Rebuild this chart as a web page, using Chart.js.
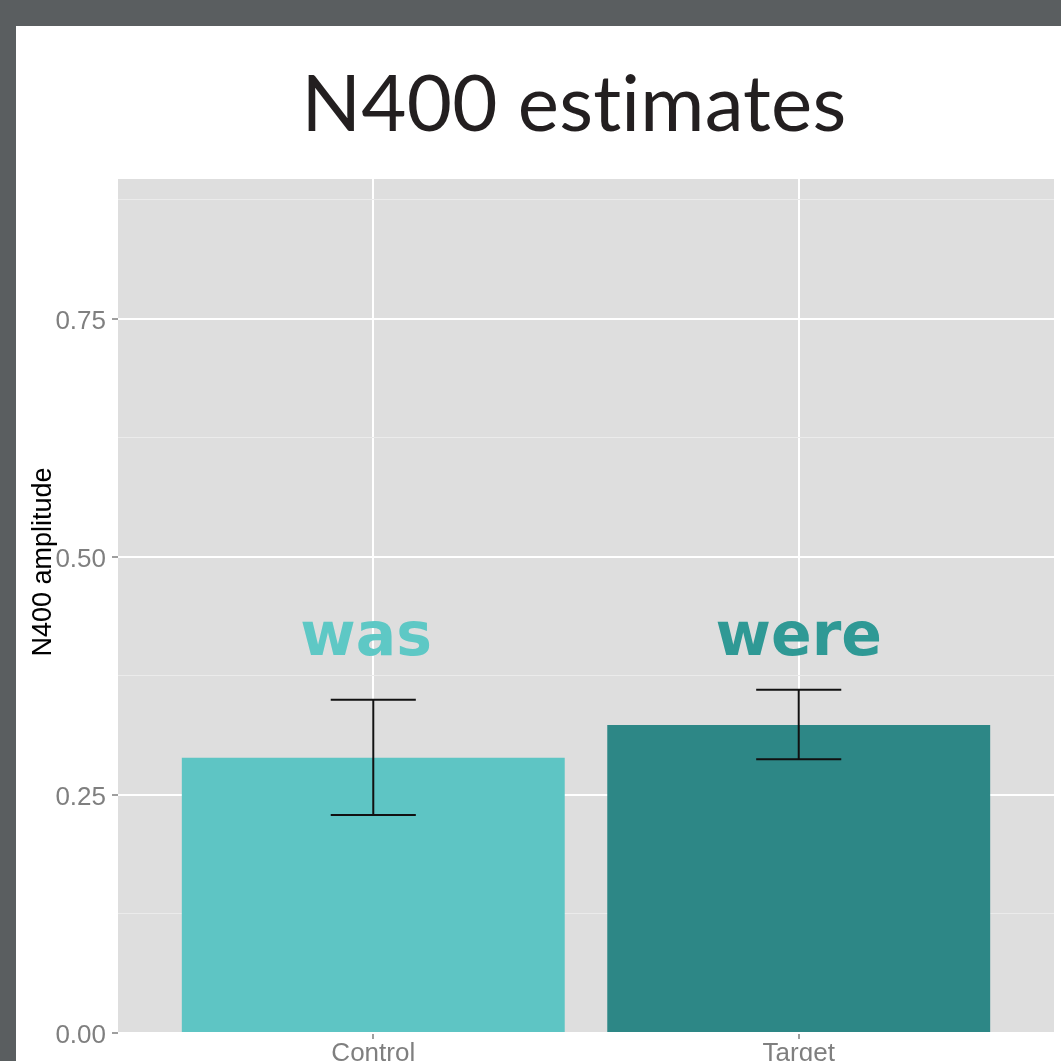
<!DOCTYPE html>
<html><head><meta charset="utf-8">
<script src="https://cdn.jsdelivr.net/npm/chart.js@4"></script>
<style>html,body{margin:0;padding:0;background:#5a5e60;overflow:hidden}canvas{display:block}</style>
</head><body>
<canvas id="c" width="1061" height="1061" style="width:1061px;height:1061px"></canvas>
<script>
// ---- data ----
const categories = ['Control', 'Target'];
const categoryPos = [0, 1];
const amplitudes = [0.289, 0.3235];
const errLow = [0.229, 0.2875];
const errHigh = [0.350, 0.3605];
const barColors = ['#5ec5c4', '#2d8786'];
const wordLabels = ['was', 'were'];
const wordColors = ['#5ec8c5', '#2f9995'];
const wordX = [-0.017, 0.0];
const wordY = [0.397, 0.397];
const yTicks = [0, 0.125, 0.25, 0.375, 0.5, 0.625, 0.75, 0.875];
const yTickLabels = ['0.00', '', '0.25', '', '0.50', '', '0.75', ''];
const titleText = 'N400 estimates';
const yTitleText = 'N400 amplitude';
const yRange = [0, 0.897];
const xRange = [-0.6, 1.6];
const errCapHalf = 0.1;

const isMajor = v => Math.abs((v / 0.25) - Math.round(v / 0.25)) < 1e-6;

const bgPlugin = {
  id: 'bg',
  beforeDraw(chart) {
    const ctx = chart.ctx, a = chart.chartArea;
    ctx.save();
    ctx.fillStyle = '#5a5e60';
    ctx.fillRect(0, 0, chart.width, chart.height);
    ctx.fillStyle = '#ffffff';
    ctx.fillRect(16, 26, chart.width - 16, chart.height - 26);
    ctx.fillStyle = '#dedede';
    ctx.fillRect(a.left, a.top, a.right - a.left, a.bottom - a.top);
    ctx.restore();
  }
};

const errPlugin = {
  id: 'errbars',
  afterDatasetsDraw(chart) {
    const ctx = chart.ctx, xs = chart.scales.x, ys = chart.scales.y;
    ctx.save();
    ctx.strokeStyle = '#111111';
    ctx.lineWidth = 2;
    for (let i = 0; i < categoryPos.length; i++) {
      const x = xs.getPixelForValue(categoryPos[i]);
      const x0 = xs.getPixelForValue(categoryPos[i] - errCapHalf);
      const x1 = xs.getPixelForValue(categoryPos[i] + errCapHalf);
      const yH = ys.getPixelForValue(errHigh[i]);
      const yL = ys.getPixelForValue(errLow[i]);
      ctx.beginPath();
      ctx.moveTo(x, yH); ctx.lineTo(x, yL);
      ctx.moveTo(x0, yH); ctx.lineTo(x1, yH);
      ctx.moveTo(x0, yL); ctx.lineTo(x1, yL);
      ctx.stroke();
    }
    ctx.font = 'bold 60px "DejaVu Sans"';
    ctx.textAlign = 'center';
    ctx.textBaseline = 'alphabetic';
    for (let i = 0; i < wordLabels.length; i++) {
      ctx.fillStyle = wordColors[i];
      ctx.fillText(wordLabels[i], xs.getPixelForValue(categoryPos[i] + wordX[i]), ys.getPixelForValue(wordY[i]));
    }
    ctx.restore();
  },
  afterDraw(chart) {
    const ctx = chart.ctx;
    ctx.save();
    ctx.fillStyle = '#231f20';
    ctx.font = '78px Lato';
    if ('letterSpacing' in ctx) ctx.letterSpacing = '0.2px';
    ctx.textAlign = 'center';
    ctx.textBaseline = 'alphabetic';
    ctx.fillText(titleText, 574, 131);
    if ('letterSpacing' in ctx) ctx.letterSpacing = '0px';
    ctx.translate(44, 562);
    ctx.rotate(-Math.PI / 2);
    ctx.fillStyle = '#000000';
    ctx.font = '27px "Liberation Sans"';
    ctx.textBaseline = 'middle';
    ctx.fillText(yTitleText, 0, 0);
    ctx.restore();
  }
};

new Chart(document.getElementById('c'), {
  type: 'bar',
  data: {
    datasets: [{
      data: categoryPos.map((x, i) => ({ x: x, y: amplitudes[i] })),
      backgroundColor: barColors,
      borderWidth: 0,
      barPercentage: 0.9,
      categoryPercentage: 1.0
    }]
  },
  options: {
    responsive: false,
    animation: false,
    devicePixelRatio: 1,
    layout: { padding: { left: 16, top: 179, right: 7, bottom: 0 } },
    plugins: { legend: { display: false }, tooltip: { enabled: false }, title: { display: false } },
    scales: {
      x: {
        type: 'linear', min: xRange[0], max: xRange[1], offset: false,
        afterBuildTicks: s => { s.ticks = categoryPos.map(v => ({ value: v })); },
        afterFit: s => { s.height = 28; },
        ticks: {
          callback: (v, i) => categories[i],
          color: '#7f7f7f', font: { family: 'Liberation Sans', size: 26 },
          padding: -1, maxRotation: 0, autoSkip: false
        },
        grid: { offset: false, color: '#ffffff', lineWidth: 2, tickColor: '#7f7f7f', tickWidth: 1.5, tickLength: 6 },
        border: { display: false }
      },
      y: {
        min: yRange[0], max: yRange[1],
        afterBuildTicks: s => { s.ticks = yTicks.map(v => ({ value: v })); },
        afterFit: s => { s.width = 102; },
        ticks: {
          callback: (v, i) => yTickLabels[i],
          color: '#7f7f7f', font: { family: 'Liberation Sans', size: 26 },
          padding: 6, autoSkip: false, labelOffset: 3
        },
        grid: {
          color: c => isMajor(c.tick.value) ? '#ffffff' : '#ebebeb',
          lineWidth: c => isMajor(c.tick.value) ? 2 : 1,
          tickColor: c => isMajor(c.tick.value) ? '#7f7f7f' : 'rgba(0,0,0,0)',
          tickWidth: 1.5, tickLength: 6
        },
        border: { display: false }
      }
    }
  },
  plugins: [bgPlugin, errPlugin]
});
</script>
</body></html>
